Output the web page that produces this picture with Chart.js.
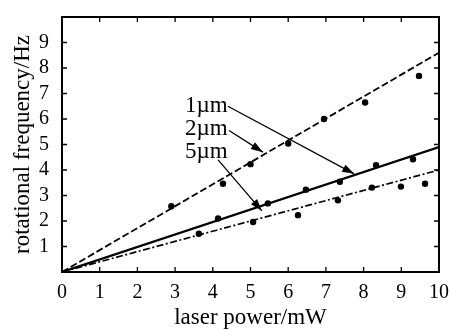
<!DOCTYPE html>
<html><head><meta charset="utf-8">
<script src="https://cdn.jsdelivr.net/npm/chart.js@4/dist/chart.umd.min.js"></script>
<style>html,body{margin:0;padding:0;background:#fff}#wrap{width:450px;height:329px}</style>
</head><body><div id="wrap"><canvas id="c" width="450" height="329"></canvas></div>
<script>
// ---- data ----
const xTickValues = [0,1,2,3,4,5,6,7,8,9,10];
const yTickValues = [1,2,3,4,5,6,7,8,9];
const dashedX  = [2.9, 4.27, 5.0, 6.0, 6.95, 8.04, 9.47];
const dashedY  = [2.58, 3.46, 4.23, 5.04, 6.0, 6.65, 7.69];
const solidX   = [4.14, 5.46, 6.47, 7.37, 8.33, 9.31];
const solidY   = [2.1, 2.69, 3.23, 3.54, 4.19, 4.42];
const dashDotX = [3.63, 5.07, 6.26, 7.32, 8.22, 8.99, 9.63];
const dashDotY = [1.5, 1.96, 2.23, 2.81, 3.31, 3.35, 3.46];
const fitX        = [0, 10];
const dashedFit   = [0, 8.6];
const solidFit    = [0, 4.9];
const dashDotFit  = [0, 4.0];
const labelTexts  = ['1\u00b5m', '2\u00b5m', '5\u00b5m'];
// annotation anchors in data units: text position, arrow start, arrow end
const labelX = [3.26, 3.26, 3.26];
const labelY = [6.5, 5.6, 4.7];
const arrowFromX = [4.4, 4.43, 4.14];
const arrowFromY = [6.5, 5.55, 4.4];
const arrowToX   = [7.75, 5.33, 5.3];
const arrowToY   = [3.85, 4.7, 2.4];

const pts = (xs, ys) => xs.map((x, i) => ({x, y: ys[i]}));
const SERIF = '"Liberation Serif","DejaVu Serif",serif';

const frame = {
  id: 'frame',
  afterDatasetsDraw(chart) {
    const {ctx, chartArea: a, scales: {x, y}} = chart;
    ctx.save();
    ctx.strokeStyle = '#000';
    ctx.lineWidth = 2;
    ctx.strokeRect(a.left, a.top, a.right - a.left, a.bottom - a.top);
    ctx.lineWidth = 1.3;
    const L = 5;
    ctx.beginPath();
    xTickValues.forEach(v => {
      if (v === 0 || v === 10) return;
      const px = x.getPixelForValue(v);
      ctx.moveTo(px, a.bottom); ctx.lineTo(px, a.bottom - L);
      ctx.moveTo(px, a.top); ctx.lineTo(px, a.top + L);
    });
    yTickValues.forEach(v => {
      const py = y.getPixelForValue(v);
      ctx.moveTo(a.left, py); ctx.lineTo(a.left + L, py);
      ctx.moveTo(a.right, py); ctx.lineTo(a.right - L, py);
    });
    ctx.stroke();
    // annotations
    ctx.fillStyle = '#000';
    ctx.font = '23px ' + SERIF;
    ctx.textBaseline = 'middle';
    ctx.textAlign = 'left';
    labelTexts.forEach((t, i) => {
      ctx.fillText(t, x.getPixelForValue(labelX[i]), y.getPixelForValue(labelY[i]));
      const x0 = x.getPixelForValue(arrowFromX[i]), y0 = y.getPixelForValue(arrowFromY[i]);
      const x1 = x.getPixelForValue(arrowToX[i]), y1 = y.getPixelForValue(arrowToY[i]);
      ctx.lineWidth = 1.3;
      ctx.beginPath(); ctx.moveTo(x0, y0); ctx.lineTo(x1, y1); ctx.stroke();
      const ang = Math.atan2(y1 - y0, x1 - x0), hl = 12, hw = 4;
      ctx.beginPath();
      ctx.moveTo(x1, y1);
      ctx.lineTo(x1 - hl * Math.cos(ang) + hw * Math.sin(ang), y1 - hl * Math.sin(ang) - hw * Math.cos(ang));
      ctx.lineTo(x1 - hl * Math.cos(ang) - hw * Math.sin(ang), y1 - hl * Math.sin(ang) + hw * Math.cos(ang));
      ctx.closePath(); ctx.fill();
    });
    ctx.restore();
  }
};

const dot = {showLine: false, pointRadius: 3.2, pointBackgroundColor: '#000', pointBorderWidth: 0, borderColor: '#000'};
const line = {showLine: true, pointRadius: 0, borderColor: '#000', fill: false, tension: 0};

new Chart(document.getElementById('c'), {
  type: 'scatter',
  data: {
    datasets: [
      {...line, label: 'fit dashed', data: pts(fitX, dashedFit), borderWidth: 1.8, borderDash: [7, 3]},
      {...line, label: 'fit solid', data: pts(fitX, solidFit), borderWidth: 2.2},
      {...line, label: 'fit dash-dot', data: pts(fitX, dashDotFit), borderWidth: 1.7, borderDash: [7, 2.5, 2, 2.5]},
      {...dot, label: 'dashed', data: pts(dashedX, dashedY)},
      {...dot, label: 'solid', data: pts(solidX, solidY)},
      {...dot, label: 'dash-dot', data: pts(dashDotX, dashDotY)}
    ]
  },
  options: {
    responsive: false, animation: false, devicePixelRatio: 1,
    layout: {padding: {top: 11, right: 11, left: 0, bottom: 0}},
    plugins: {legend: {display: false}, tooltip: {enabled: false}},
    scales: {
      x: {
        type: 'linear', min: 0, max: 10,
        afterBuildTicks: s => { s.ticks = xTickValues.map(v => ({value: v})); },
        afterFit: s => { s.height = 57; },
        grid: {display: false}, border: {display: false},
        ticks: {color: '#000', font: {family: SERIF, size: 20}, padding: 1, maxRotation: 0},
        title: {display: true, text: 'laser power/mW', color: '#000', font: {family: SERIF, size: 23}, padding: {top: 4, bottom: -3}}
      },
      y: {
        type: 'linear', min: 0, max: 10,
        afterBuildTicks: s => { s.ticks = yTickValues.map(v => ({value: v})); },
        afterFit: s => { s.width = 62; },
        grid: {display: false}, border: {display: false},
        ticks: {color: '#000', font: {family: SERIF, size: 20}, padding: 5},
        title: {display: true, text: 'rotational frequency/Hz', color: '#000', font: {family: SERIF, size: 23}, padding: {top: 9, bottom: 0}}
      }
    }
  },
  plugins: [frame]
});
</script></body></html>
